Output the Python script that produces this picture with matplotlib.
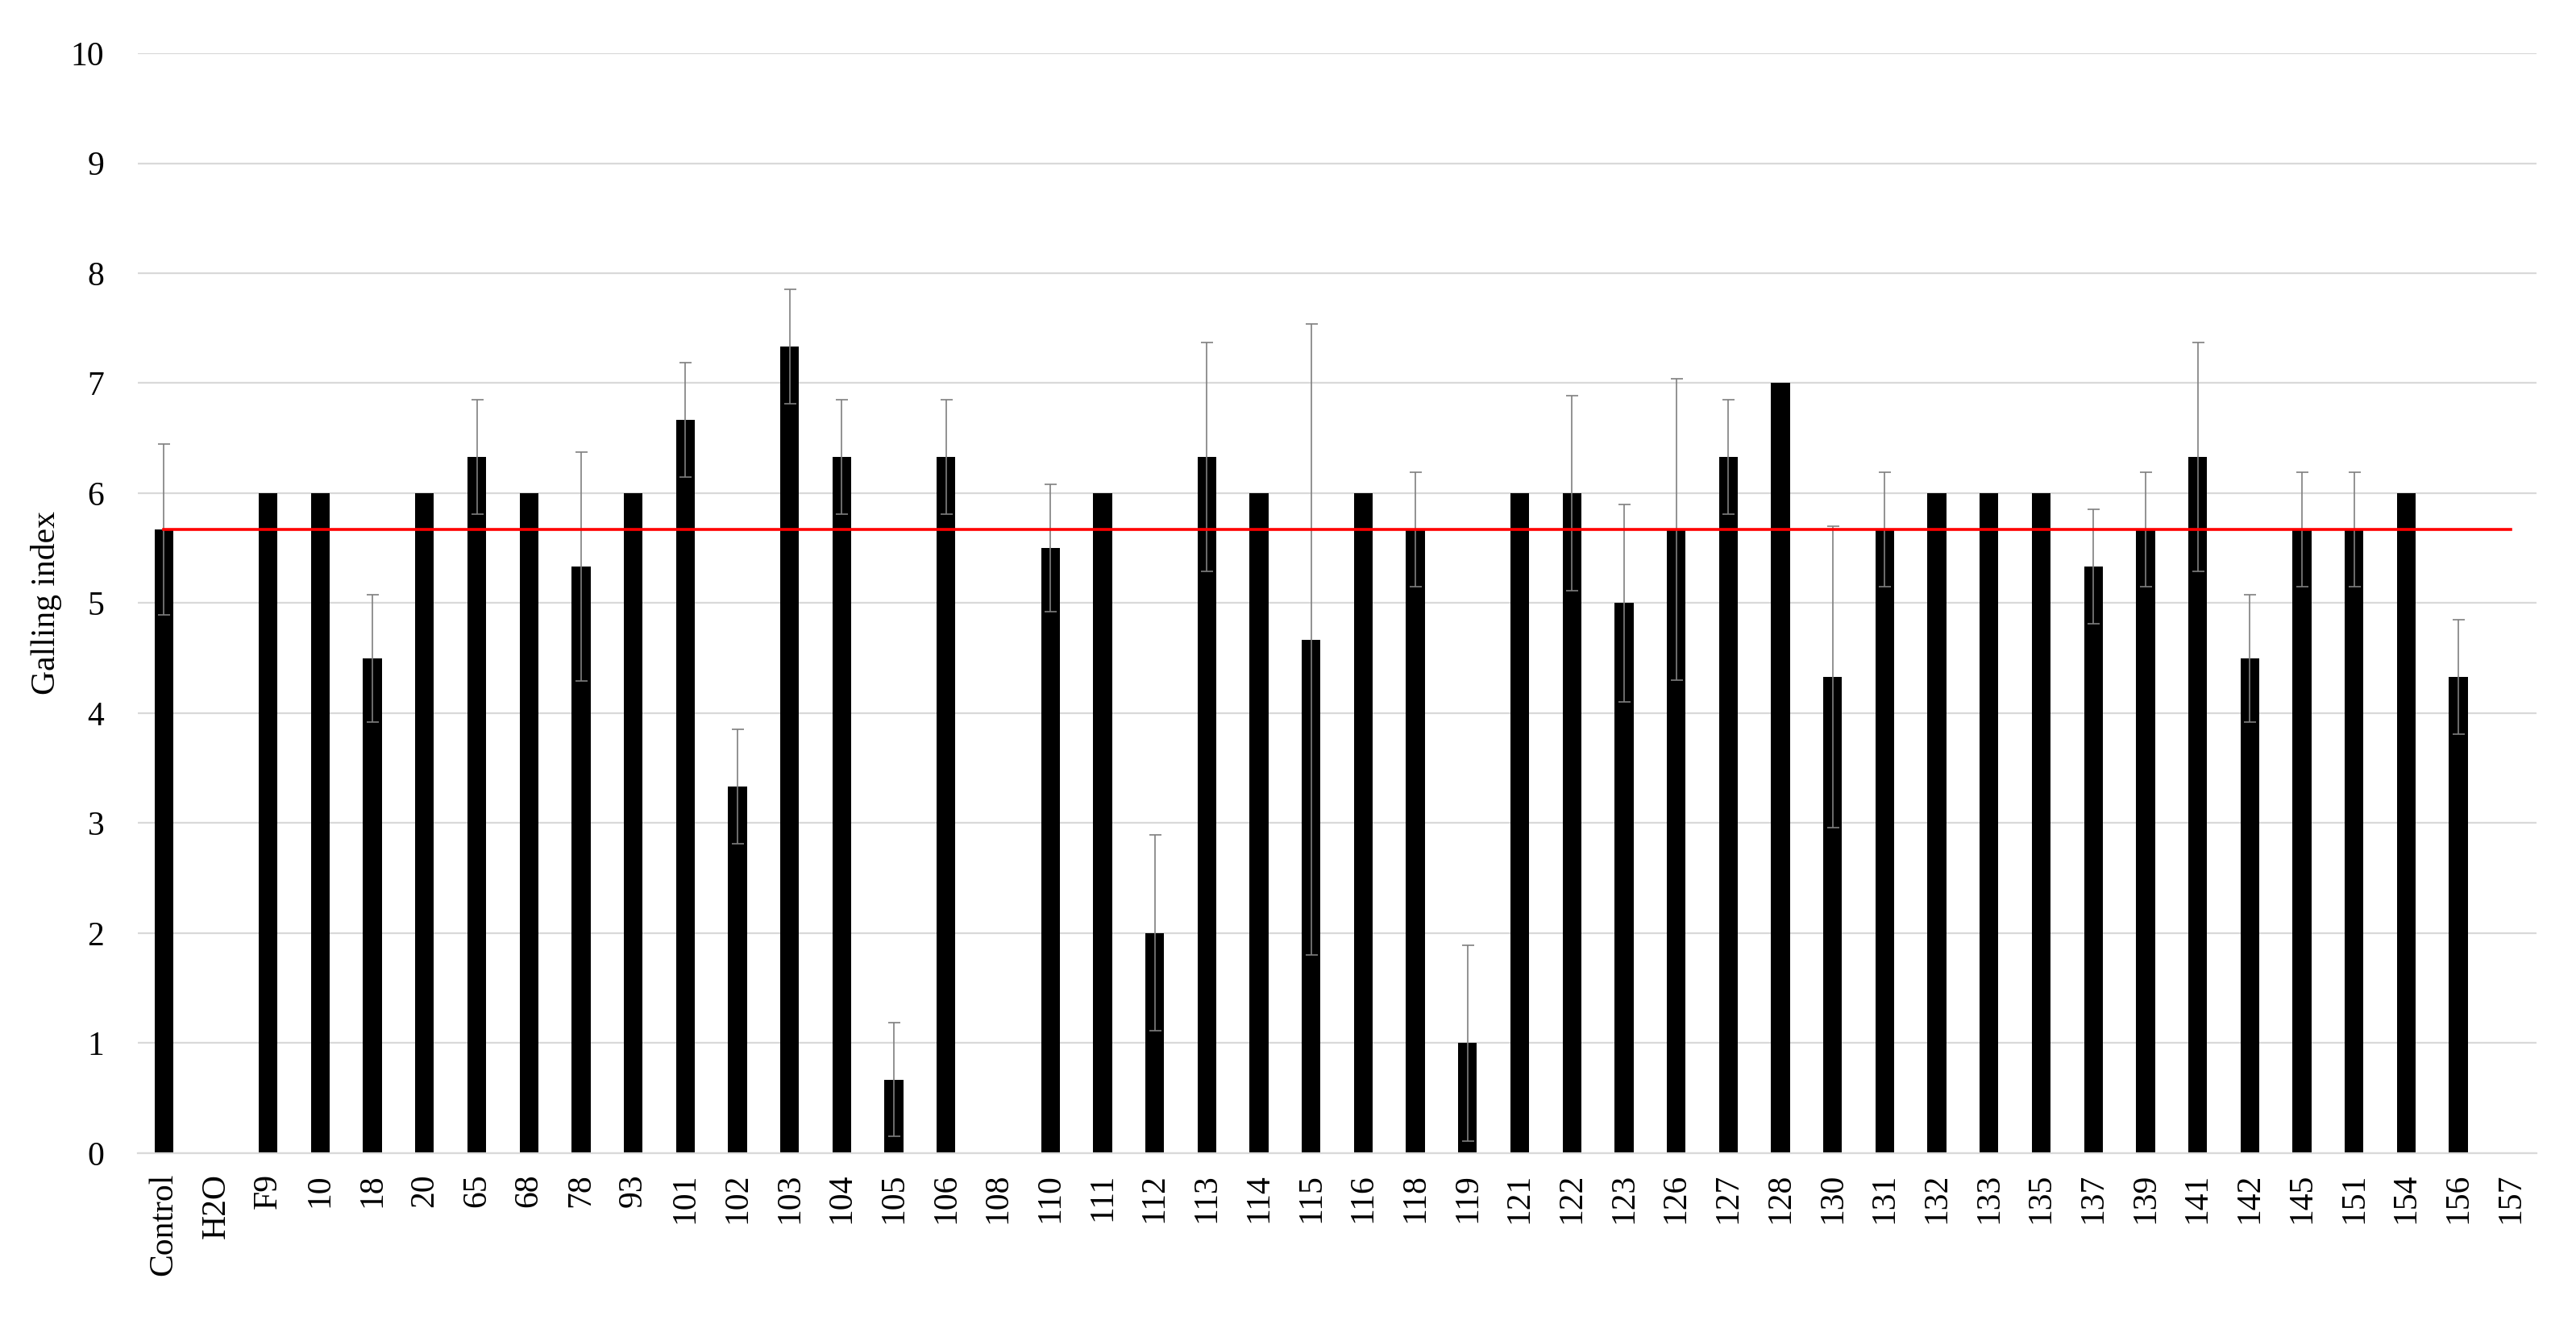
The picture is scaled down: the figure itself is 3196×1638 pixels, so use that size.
import numpy as np
import matplotlib.pyplot as plt

plt.rcParams['font.family'] = ['Liberation Serif', 'DejaVu Serif']

categories = ['Control', 'H2O', 'F9', '10', '18', '20', '65', '68', '78', '93',
              '101', '102', '103', '104', '105', '106', '108', '110', '111', '112',
              '113', '114', '115', '116', '118', '119', '121', '122', '123', '126',
              '127', '128', '130', '131', '132', '133', '135', '137', '139', '141',
              '142', '145', '151', '154', '156', '157']
galling = [5.67, 0, 6, 6, 4.5, 6, 6.33, 6, 5.33, 6,
           6.67, 3.33, 7.33, 6.33, 0.67, 6.33, 0, 5.5, 6, 2,
           6.33, 6, 4.67, 6, 5.67, 1, 6, 6, 5, 5.67,
           6.33, 7, 4.33, 5.67, 6, 6, 6, 5.33, 5.67, 6.33,
           4.5, 5.67, 5.67, 6, 4.33, 0]
errors = [0.78, 0, 0, 0, 0.58, 0, 0.52, 0, 1.04, 0,
          0.52, 0.52, 0.52, 0.52, 0.52, 0.52, 0, 0.58, 0, 0.89,
          1.04, 0, 2.87, 0, 0.52, 0.89, 0, 0.89, 0.9, 1.37,
          0.52, 0, 1.37, 0.52, 0, 0, 0, 0.52, 0.52, 1.04,
          0.58, 0.52, 0.52, 0, 0.52, 0]
control_mean = 5.67

x = np.arange(len(categories))
vals = np.array(galling)
errs = np.array(errors)

fig = plt.figure(figsize=(15.98, 8.19), dpi=200)
ax = fig.add_axes([0.0535, 0.1264, 0.9312, 0.8333])

ax.bar(x, vals, width=0.36, color='black', zorder=2)
m = errs > 0
ax.errorbar(x[m], vals[m], yerr=errs[m], fmt='none', ecolor='#7f7f7f',
            elinewidth=0.6, capsize=2.7, capthick=0.6, zorder=3)
ax.plot([x[0], x[-1]], [control_mean, control_mean], color='#ff0000',
        linewidth=1.3, zorder=4)

ax.set_xlim(-0.5, len(categories) - 0.5)
ax.set_ylim(0, 10)
ax.set_yticks(range(0, 11))
ax.set_xticks(x)
ax.set_xticklabels(categories, rotation=90)
ax.tick_params(axis='both', length=0, labelsize=15)
ax.tick_params(axis='y', pad=15)
ax.tick_params(axis='x', pad=9)
ax.grid(axis='y', color='#d9d9d9', linewidth=0.8, zorder=0)
ax.set_axisbelow(True)
for s in ['top', 'right', 'left']:
    ax.spines[s].set_visible(False)
ax.spines['bottom'].set_color('#d9d9d9')
ax.spines['bottom'].set_linewidth(0.8)
ax.set_ylabel('Galling index', fontsize=15, labelpad=4)

fig.savefig('out.png', dpi=200, facecolor='white')
